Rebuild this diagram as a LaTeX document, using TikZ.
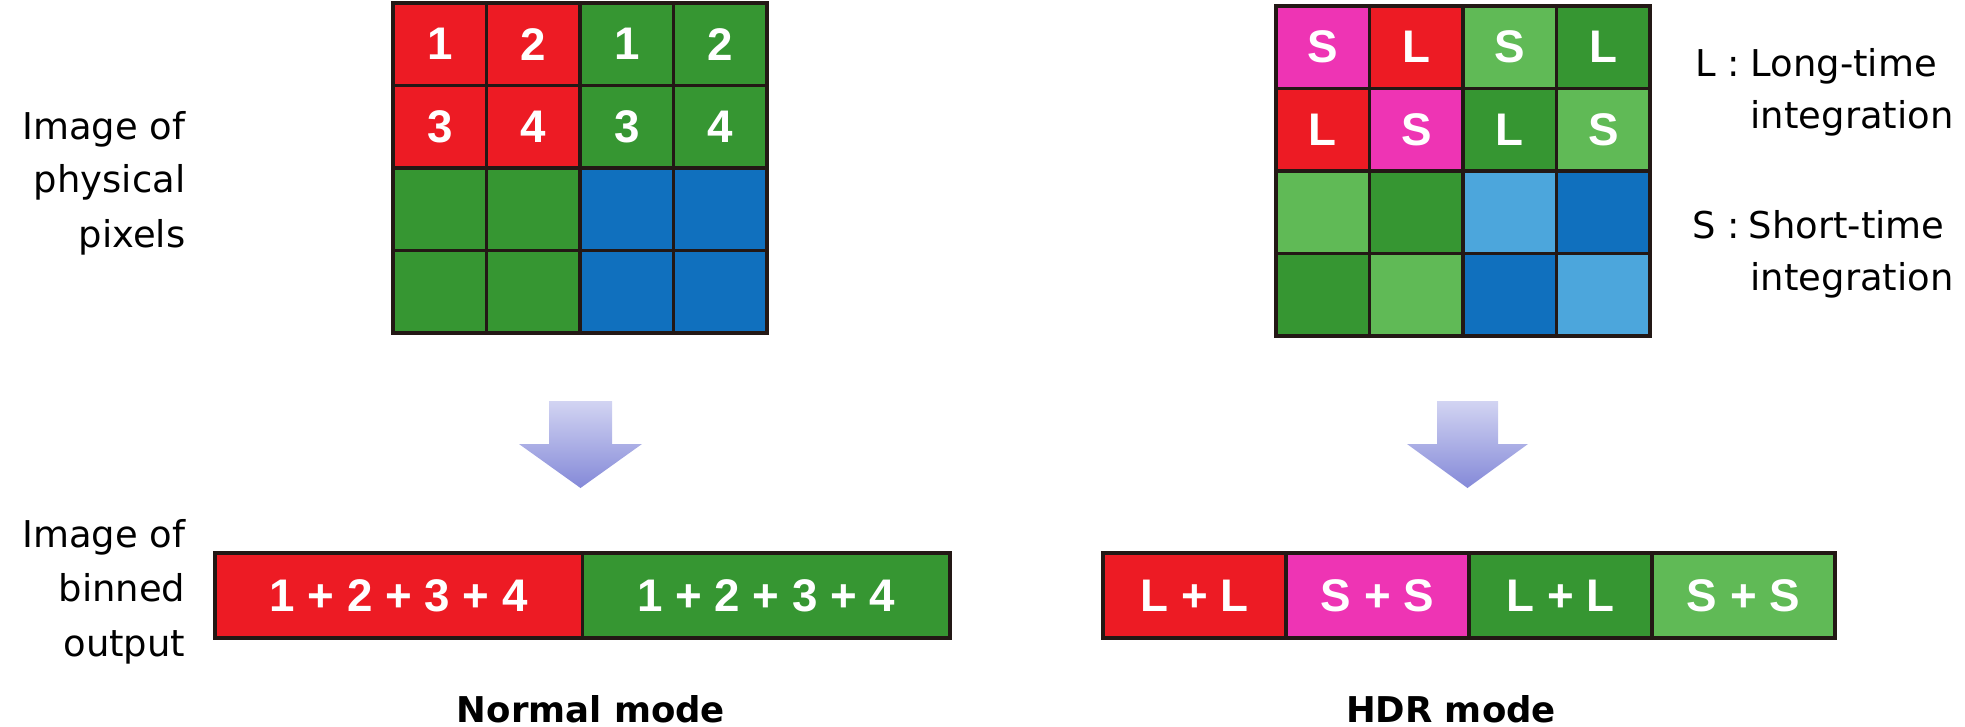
\documentclass[tikz,border=0pt]{standalone}
\usepackage{fontspec}
\newfontfamily\labelfont{DejaVu Sans}
\newfontfamily\cellfont{Liberation Sans}
\definecolor{pixred}{RGB}{237,27,36}
\definecolor{pixgreen}{RGB}{54,150,50}
\definecolor{pixlgreen}{RGB}{96,186,86}
\definecolor{pixblue}{RGB}{16,112,190}
\definecolor{pixlblue}{RGB}{76,166,220}
\definecolor{pixpink}{RGB}{238,52,180}
\definecolor{pixline}{RGB}{35,24,21}
\definecolor{arrowtop}{RGB}{210,212,242}
\definecolor{arrowbot}{RGB}{132,137,216}
\tikzset{
  cell/.style={rectangle, draw=pixline, line width=1pt, minimum width=0.935cm, minimum height=0.825cm,
    inner sep=0pt, outer sep=0pt, text=white, font=\cellfont\bfseries\fontsize{13}{13}\selectfont},
  bin/.style={cell, minimum height=0.85cm},
  frame/.style={draw=pixline, line width=1.4pt},
  lbl/.style={inner sep=0pt, font=\labelfont\fontsize{10.5}{15}\selectfont},
  ttl/.style={inner sep=0pt, font=\labelfont\bfseries\fontsize{10.1}{12}\selectfont},
  binarrow/.style={top color=arrowtop, bottom color=arrowbot, draw=none}
}
\begin{document}
\begin{tikzpicture}[x=0.01cm, y=-0.01cm]
\useasboundingbox (0,0) rectangle (1965,727);
% normal mode pixels
\node[cell, fill=pixred] (n11) at (439.75,44.25) {1};
\node[cell, fill=pixred] (n12) at (533.25,44.25) {2};
\node[cell, fill=pixgreen] (n13) at (626.75,44.25) {1};
\node[cell, fill=pixgreen] (n14) at (720.25,44.25) {2};
\node[cell, fill=pixred] (n21) at (439.75,126.75) {3};
\node[cell, fill=pixred] (n22) at (533.25,126.75) {4};
\node[cell, fill=pixgreen] (n23) at (626.75,126.75) {3};
\node[cell, fill=pixgreen] (n24) at (720.25,126.75) {4};
\node[cell, fill=pixgreen] (n31) at (439.75,209.25) {};
\node[cell, fill=pixgreen] (n32) at (533.25,209.25) {};
\node[cell, fill=pixblue] (n33) at (626.75,209.25) {};
\node[cell, fill=pixblue] (n34) at (720.25,209.25) {};
\node[cell, fill=pixgreen] (n41) at (439.75,291.75) {};
\node[cell, fill=pixgreen] (n42) at (533.25,291.75) {};
\node[cell, fill=pixblue] (n43) at (626.75,291.75) {};
\node[cell, fill=pixblue] (n44) at (720.25,291.75) {};
\draw[frame] (n11.north west) rectangle (n44.south east);
% hdr mode pixels
\node[cell, fill=pixpink] (d11) at (1322.75,47.25) {S};
\node[cell, fill=pixred] (d12) at (1416.25,47.25) {L};
\node[cell, fill=pixlgreen] (d13) at (1509.75,47.25) {S};
\node[cell, fill=pixgreen] (d14) at (1603.25,47.25) {L};
\node[cell, fill=pixred] (d21) at (1322.75,129.75) {L};
\node[cell, fill=pixpink] (d22) at (1416.25,129.75) {S};
\node[cell, fill=pixgreen] (d23) at (1509.75,129.75) {L};
\node[cell, fill=pixlgreen] (d24) at (1603.25,129.75) {S};
\node[cell, fill=pixlgreen] (d31) at (1322.75,212.25) {};
\node[cell, fill=pixgreen] (d32) at (1416.25,212.25) {};
\node[cell, fill=pixlblue] (d33) at (1509.75,212.25) {};
\node[cell, fill=pixblue] (d34) at (1603.25,212.25) {};
\node[cell, fill=pixgreen] (d41) at (1322.75,294.75) {};
\node[cell, fill=pixlgreen] (d42) at (1416.25,294.75) {};
\node[cell, fill=pixblue] (d43) at (1509.75,294.75) {};
\node[cell, fill=pixlblue] (d44) at (1603.25,294.75) {};
\draw[frame] (d11.north west) rectangle (d44.south east);
% labels and legend
\node[lbl, anchor=base east] (phys1) at (186,139) {Image of};
\node[lbl, anchor=base east] (phys2) at (186,192) {physical};
\node[lbl, anchor=base east] (phys3) at (186,247) {pixels};
\node[lbl, anchor=base east] (bin1) at (186,547) {Image of};
\node[lbl, anchor=base east] (bin2) at (186,601) {binned};
\node[lbl, anchor=base east] (bin3) at (186,656) {output};
\node[lbl, anchor=base east] (keyL) at (1741,76) {L :};
\node[lbl, anchor=base west] (keyL1) at (1750,76) {Long-time};
\node[lbl, anchor=base west] (keyL2) at (1750,128) {integration};
\node[lbl, anchor=base east] (keyS) at (1741,238) {S :};
\node[lbl, anchor=base west] (keyS1) at (1748,238) {Short-time};
\node[lbl, anchor=base west] (keyS2) at (1750,290) {integration};
% arrows
\shade[binarrow] (549,401) -- (612,401) -- (612,444) -- (642,444) -- (580.5,488) -- (519,444) -- (549,444) -- cycle;
\shade[binarrow] (1437,401) -- (1498,401) -- (1498,444) -- (1528,444) -- (1467.5,488) -- (1407,444) -- (1437,444) -- cycle;
% binned output
\node[bin, fill=pixred, minimum width=3.675cm] (b1) at (398.75,595.5) {1 + 2 + 3 + 4};
\node[bin, fill=pixgreen, minimum width=3.675cm] (b2) at (766.25,595.5) {1 + 2 + 3 + 4};
\draw[frame, line width=1.2pt] (b1.north west) rectangle (b2.south east);
\node[bin, fill=pixred, minimum width=1.83cm] (h1) at (1194.5,595.5) {L + L};
\node[bin, fill=pixpink, minimum width=1.83cm] (h2) at (1377.5,595.5) {S + S};
\node[bin, fill=pixgreen, minimum width=1.83cm] (h3) at (1560.5,595.5) {L + L};
\node[bin, fill=pixlgreen, minimum width=1.83cm] (h4) at (1743.5,595.5) {S + S};
\draw[frame, line width=1.2pt] (h1.north west) rectangle (h4.south east);
\node[ttl, anchor=base] (normal) at (591,722) {Normal mode};
\node[ttl, anchor=base] (hdr) at (1451,722) {HDR mode};
\end{tikzpicture}
\end{document}
